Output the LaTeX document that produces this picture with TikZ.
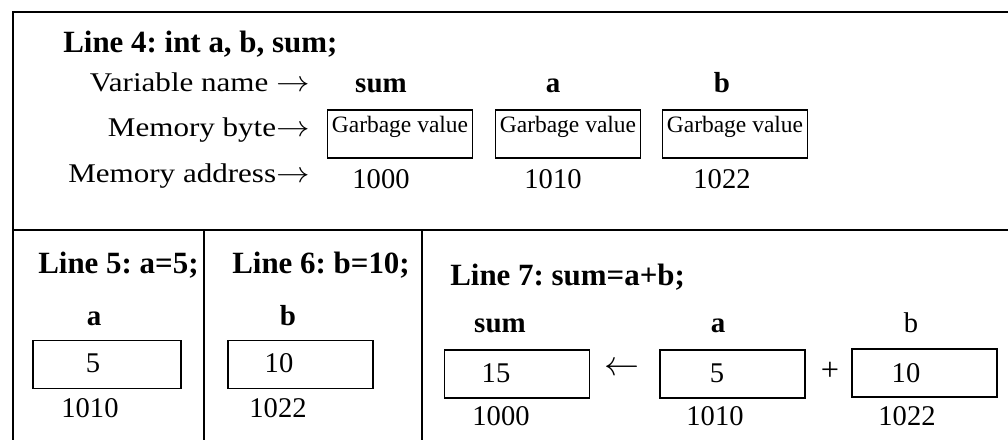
\documentclass[tikz,border=0pt]{standalone}
\usepackage{fontspec}
\setmainfont{Liberation Serif}
\usetikzlibrary{positioning}
\frenchspacing
\newcommand{\rarr}{$\rightarrow$}
\begin{document}
\begin{tikzpicture}[
 x=0.025cm,y=-0.025cm,
 frame/.style={line width=1.3pt},
 cell/.style={draw,line width=1pt,minimum width=3.625cm,minimum height=1.2cm,inner sep=0pt},
 head/.style={font=\bfseries\fontsize{22}{24}\selectfont,anchor=base west,inner sep=0pt},
 lbl/.style={font=\fontsize{19.2}{22}\selectfont,anchor=base east,inner sep=0pt,xscale=1.15},
 vname/.style={font=\bfseries\fontsize{20.6}{22}\selectfont,anchor=base,inner sep=0pt},
 num/.style={font=\fontsize{20.3}{22}\selectfont,anchor=base,inner sep=0pt},
 junk/.style={font=\fontsize{16.7}{18}\selectfont,anchor=base,inner sep=0pt},
 op/.style={font=\fontsize{25}{26}\selectfont,anchor=center,inner sep=0pt}
]
\useasboundingbox (0,0) rectangle (1008,440);
\draw[frame] (13,440) -- (13,12) -- (1008,12);
\draw[frame] (13,230) -- (1008,230);
\draw[frame] (204,230) -- (204,440);
\draw[frame] (422,230) -- (422,440);
% line 4
\node[head] (l4) at (63,53) {Line 4: int a, b, sum;};
\node[lbl] (vn) at (310,92) {Variable name \rarr};
\node[lbl] (mb) at (310,137) {Memory byte\rarr};
\node[lbl] (ma) at (310,182) {Memory address\rarr};
\foreach \v/\x/\bx/\ad in {sum/381/400/1000,a/553/568/1010,b/722/735/1022}{
  \node[vname] (n\v) at (\x,93) {\v};
  \node[cell] (g\v) at (\bx,134) {};
  \node[junk] (gt\v) at (\bx,133) {Garbage value};
  \node[num] (ad\v) at (\x,188) {\ad};
}
% line 5 and line 6
\node[head] (l5) at (38,273) {Line 5: a=5;};
\node[vname] (na5) at (94,325) {a};
\node[cell,minimum width=3.7cm] (ca5) at (107,364.5) {};
\node[num] (va5) at (93,372) {5};
\node[num] (ada5) at (90,417) {1010};
\node[head] (l6) at (232,273) {Line 6: b=10;};
\node[vname] (nb6) at (288,325) {b};
\node[cell] (cb6) at (300.5,364.5) {};
\node[num] (vb6) at (279,372) {10};
\node[num] (adb6) at (278,417) {1022};
% line 7
\node[head] (l7) at (450,285) {Line 7: sum=a+b;};
\node[vname] (ns7) at (500,332) {sum};
\node[cell] (cs7) at (517,374) {};
\node[num] (vs7) at (496,382) {15};
\node[num] (ads7) at (501,425) {1000};
\node[op] (get) at (622,369) {$\leftarrow$};
\node[vname] (na7) at (718,332) {a};
\node[cell] (ca7) at (732.5,374) {};
\node[num] (va7) at (717,382) {5};
\node[num] (ada7) at (715,425) {1010};
\node[op,font=\fontsize{23}{24}\selectfont] (plus) at (830,371) {+};
\node[num] (nb7) at (911,332) {b};
\node[cell] (cb7) at (924.5,373) {};
\node[num] (vb7) at (906,382) {10};
\node[num] (adb7) at (907,425) {1022};
\end{tikzpicture}
\end{document}
